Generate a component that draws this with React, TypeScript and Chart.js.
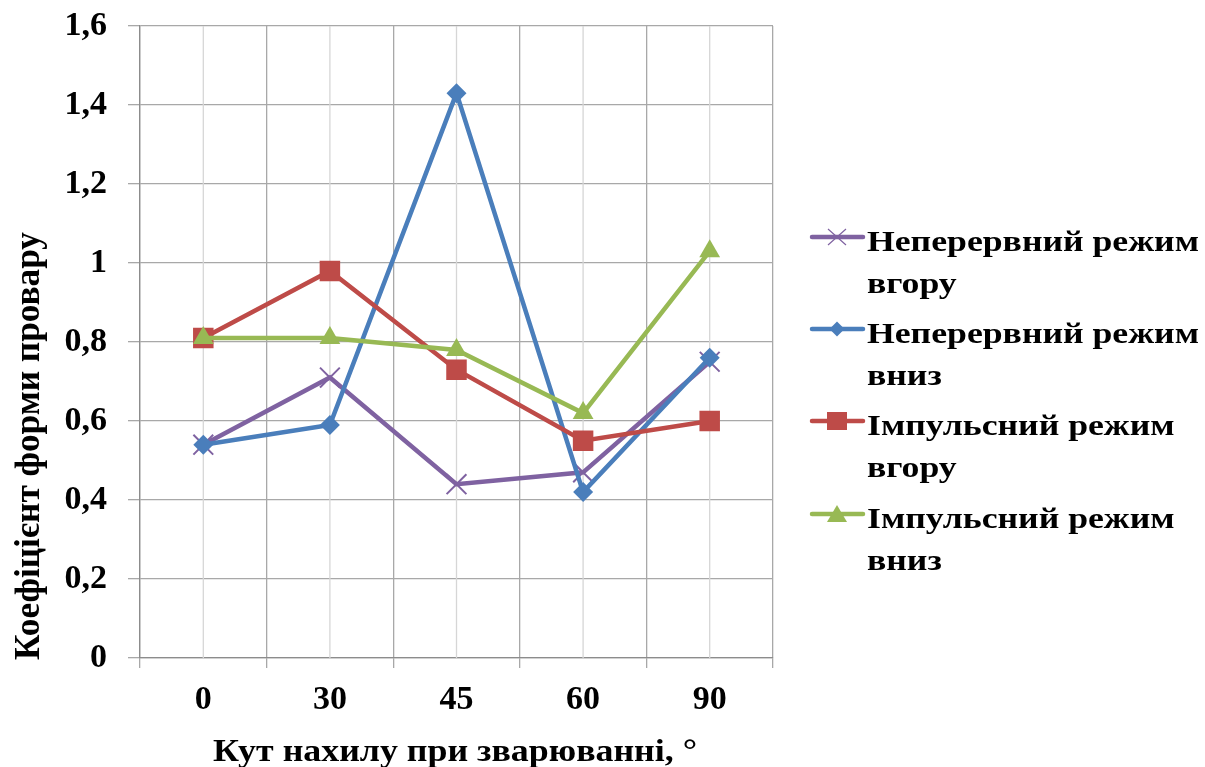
import React, { useEffect, useRef } from 'react';
import { Chart, registerables } from 'chart.js';

Chart.register(...registerables);

// ---- data ----
const categories = ['0', '30', '45', '60', '90'];
const contUp = [0.54, 0.71, 0.44, 0.47, 0.75];
const contDown = [0.54, 0.59, 1.43, 0.42, 0.76];
const pulseUp = [0.81, 0.98, 0.73, 0.55, 0.6];
const pulseDown = [0.81, 0.81, 0.78, 0.62, 1.03];
const seriesLabels = [
  ['Неперервний режим', 'вгору'],
  ['Неперервний режим', 'вниз'],
  ['Імпульсний режим', 'вгору'],
  ['Імпульсний режим', 'вниз'],
];
const xTitle = 'Кут нахилу при зварюванні, °';
const yTitle = 'Коефіцієнт форми провару';
const yMin = 0;
const yMax = 1.6;
const yStep = 0.2;

const colors = ['#7f62a1', '#4a7ebb', '#be4b48', '#98b954'];
const styles = ['crossRot', 'rectRot', 'rect', 'triangle'];
const radii = [14, 10, 14.5, 12];
const FONT = '"Liberation Serif", "Times New Roman", serif';

function drawFitted(
  ctx: CanvasRenderingContext2D,
  text: string,
  x: number,
  y: number,
  font: string,
  sx: number,
  align: CanvasTextAlign
) {
  ctx.save();
  ctx.font = font;
  ctx.translate(x, y);
  ctx.scale(sx, 1);
  ctx.textAlign = align;
  ctx.textBaseline = 'alphabetic';
  ctx.fillStyle = '#000';
  ctx.fillText(text, 0, 0);
  ctx.restore();
}

function drawMarker(ctx: CanvasRenderingContext2D, kind: number, x: number, y: number, color: string) {
  ctx.save();
  ctx.fillStyle = color;
  ctx.strokeStyle = color;
  ctx.beginPath();
  if (kind === 0) {
    ctx.lineWidth = 1.2;
    ctx.moveTo(x - 9, y - 8);
    ctx.lineTo(x + 9, y + 8);
    ctx.moveTo(x + 9, y - 8);
    ctx.lineTo(x - 9, y + 8);
    ctx.stroke();
  } else if (kind === 1) {
    ctx.moveTo(x, y - 7.5);
    ctx.lineTo(x + 7.5, y);
    ctx.lineTo(x, y + 7.5);
    ctx.lineTo(x - 7.5, y);
    ctx.closePath();
    ctx.fill();
  } else if (kind === 2) {
    ctx.rect(x - 10, y - 9, 20, 18);
    ctx.fill();
  } else {
    ctx.moveTo(x, y - 9);
    ctx.lineTo(x + 10, y + 8);
    ctx.lineTo(x - 10, y + 8);
    ctx.closePath();
    ctx.fill();
  }
  ctx.restore();
}

const decorPlugin = {
  id: 'decor',
  beforeDatasetsDraw(chart: any) {
    const { ctx, chartArea, scales } = chart;
    const xs = scales.x;
    ctx.save();
    ctx.strokeStyle = '#d6d6d6';
    ctx.lineWidth = 1.3;
    categories.forEach((_, i) => {
      const px = xs.getPixelForValue(i);
      ctx.beginPath();
      ctx.moveTo(px, chartArea.top);
      ctx.lineTo(px, chartArea.bottom);
      ctx.stroke();
    });
    ctx.restore();
  },
  afterDraw(chart: any) {
    const ctx: CanvasRenderingContext2D = chart.ctx;
    // x title
    const xFont = `bold 31px ${FONT}`;
    ctx.font = xFont;
    const xw = ctx.measureText(xTitle).width;
    drawFitted(ctx, xTitle, 455, 761, xFont, 484 / xw, 'center');

    // y title (rotated)
    const yFont = `bold 36px ${FONT}`;
    ctx.font = yFont;
    const yw = ctx.measureText(yTitle).width;
    ctx.save();
    ctx.translate(39, 446);
    ctx.rotate(-Math.PI / 2);
    drawFitted(ctx, yTitle, 0, 0, yFont, 428 / yw, 'center');
    ctx.restore();

    // legend
    const lFont = `bold 29px ${FONT}`;
    ctx.font = lFont;
    const lw = ctx.measureText(seriesLabels[0][0]).width;
    const lsx = 332 / lw;
    const baselines = [251, 343, 435, 528];
    seriesLabels.forEach((lines, i) => {
      const b = baselines[i];
      const my = b - 14;
      ctx.save();
      ctx.strokeStyle = colors[i];
      ctx.lineWidth = 4.5;
      ctx.lineCap = 'round';
      ctx.beginPath();
      ctx.moveTo(812, my);
      ctx.lineTo(863, my);
      ctx.stroke();
      ctx.restore();
      drawMarker(ctx, i, 837, my, colors[i]);
      lines.forEach((t, j) => {
        drawFitted(ctx, t, 867, b + j * 41.5, lFont, lsx, 'left');
      });
    });
  },
};

export default function App() {
  const ref = useRef<HTMLCanvasElement | null>(null);

  useEffect(() => {
    if (!ref.current) return;
    const series = [contUp, contDown, pulseUp, pulseDown];
    const tickFont = { family: FONT, size: 34, weight: 'bold' as const, lineHeight: 1 };
    const chart = new Chart(ref.current, {
      type: 'line',
      data: {
        labels: categories,
        datasets: series.map((d, i) => ({
          label: seriesLabels[i].join(' '),
          data: d,
          borderColor: colors[i],
          backgroundColor: colors[i],
          borderWidth: 4.5,
          pointStyle: styles[i] as any,
          pointRadius: radii[i],
          pointBorderWidth: i === 0 ? 2 : 0,
          pointBackgroundColor: colors[i],
          pointBorderColor: colors[i],
          tension: 0,
          fill: false,
          order: 4 - i,
        })),
      },
      options: {
        animation: false,
        responsive: false,
        devicePixelRatio: 1,
        layout: { padding: { top: 26, right: 432, left: 0, bottom: 0 } },
        plugins: {
          legend: { display: false },
          tooltip: { enabled: false },
          title: { display: false },
        },
        scales: {
          x: {
            type: 'category',
            offset: true,
            grid: {
              offset: true,
              color: '#a8a8a8',
              lineWidth: 1.3,
              tickLength: 10,
              drawTicks: true,
            },
            border: { color: '#8c8c8c', width: 1.3 },
            ticks: { font: tickFont, color: '#000', padding: 15, maxRotation: 0 },
            afterFit: (s: any) => {
              s.height = 109;
              s.paddingLeft = 0;
              s.paddingRight = 0;
            },
          },
          y: {
            min: yMin,
            max: yMax,
            grid: { color: '#a8a8a8', lineWidth: 1.3, tickLength: 12, drawTicks: true },
            border: { color: '#8c8c8c', width: 1.3 },
            ticks: {
              stepSize: yStep,
              font: tickFont,
              color: '#000',
              padding: 21,
              callback: (v: any) => String(Math.round(Number(v) * 10) / 10).replace('.', ','),
            },
            afterFit: (s: any) => {
              s.width = 140;
              s.paddingTop = 0;
              s.paddingBottom = 0;
            },
          },
        },
      },
      plugins: [decorPlugin],
    });
    return () => chart.destroy();
  }, []);

  return (
    <div style={{ position: 'fixed', left: 0, top: 0, width: 1205, height: 767, background: '#fff' }}>
      <canvas ref={ref} width={1205} height={767} style={{ display: 'block', width: 1205, height: 767 }} />
    </div>
  );
}
